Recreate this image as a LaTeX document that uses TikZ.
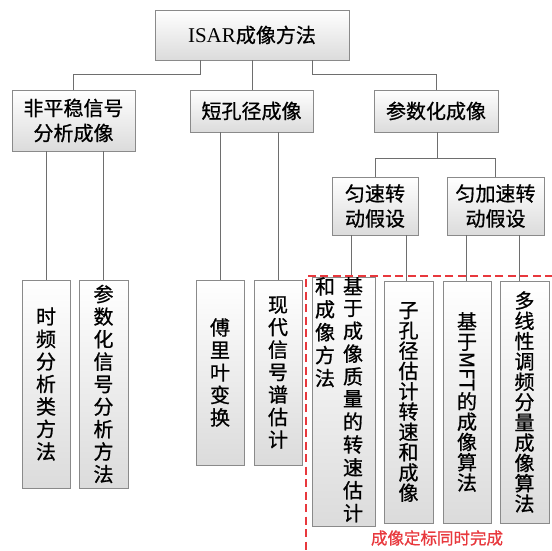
\documentclass[tikz,border=0pt]{standalone}
\usepackage{fontspec}
\usepackage{graphicx}
\newfontfamily\cjk[FakeBold=0.8]{Noto Sans CJK SC}
\newfontfamily\latserif{Liberation Serif}
\definecolor{boxline}{HTML}{8A8A8A}
\definecolor{conn}{HTML}{6E6E6E}
\definecolor{redmark}{HTML}{E8383D}
\begin{document}
\begin{tikzpicture}[x=1pt,y=-1pt,
  box/.style={draw=boxline, line width=0.9pt, top color=white, bottom color=black!14,
    inner sep=0pt, align=center, font=\cjk\fontsize{20}{25}\selectfont},
  tallbox/.style={box, font=\cjk\fontsize{20}{22.5}\selectfont},
  tallboxr/.style={box, font=\cjk\fontsize{20}{20.3}\selectfont},
  link/.style={draw=conn, line width=1pt},
  redline/.style={draw=redmark, line width=1.4pt, dash pattern=on 8pt off 4.5pt}]
\useasboundingbox[fill=white] (0,0) rectangle (552,551);

% level 1
\node[box, minimum width=194pt, minimum height=50pt] (top) at (252,35) {{\latserif\fontsize{21}{25}\selectfont ISAR}成像方法};
% level 2
\node[box, minimum width=123pt, minimum height=61pt] (n1) at (73.5,120.5) {非平稳信号\\分析成像};
\node[box, minimum width=123pt, minimum height=42pt] (n2) at (251.5,111) {短孔径成像};
\node[box, minimum width=124pt, minimum height=42pt] (n3) at (436,111) {参数化成像};
% level 3
\node[box, minimum width=86pt, minimum height=58pt] (n31) at (375,206) {匀速转\\动假设};
\node[box, minimum width=97pt, minimum height=58pt] (n32) at (495.5,206) {匀加速转\\动假设};
% leaves
\node[tallbox, minimum width=48pt, minimum height=208pt] (l1) at (46,384) {时\\频\\分\\析\\类\\方\\法};
\node[tallbox, minimum width=49pt, minimum height=208pt] (l2) at (103.5,384) {参\\数\\化\\信\\号\\分\\析\\方\\法};
\node[tallbox, minimum width=48pt, minimum height=185pt] (l3) at (220,372.5) {傅\\里\\叶\\变\\换};
\node[tallbox, minimum width=48pt, minimum height=185pt] (l4) at (278,372.5) {现\\代\\信\\号\\谱\\估\\计};
\node[box, font=\cjk\fontsize{20}{20.3}\selectfont, minimum width=63pt, minimum height=242pt] (l5) at (343.5,402)
  {\begin{tabular}[t]{@{}c@{}}和\\成\\像\\方\\法\end{tabular}\hspace{8pt}\begin{tabular}[t]{@{}c@{}}基\\于\\成\\像\\质\\量\\的\\转\\速\\估\\计\end{tabular}\hspace{9pt}};
\node[tallboxr, minimum width=49pt, minimum height=242pt] (l6) at (408.5,402) {子\\孔\\径\\估\\计\\转\\速\\和\\成\\像};
\node[tallboxr, minimum width=48pt, minimum height=242pt] (l7) at (467,402) {基\\于\\\rotatebox[origin=c]{-90}{MFT}\\的\\成\\像\\算\\法};
\node[tallboxr, minimum width=49pt, minimum height=242pt] (l8) at (524.5,402) {多\\线\\性\\调\\频\\分\\量\\成\\像\\算\\法};

% connectors level 1 -> 2
\coordinate (ja) at (200,75);
\coordinate (jb) at (312,75);
\draw[link] (top.south -| ja) -- (ja) -| (n1.north);
\draw[link] (top.south) -- (top.south |- n2.north);
\draw[link] (top.south -| jb) -- (jb) -| (n3.north);
% level 2 -> leaves
\draw[link] (n1.south -| l1.north) -- (l1.north);
\draw[link] (n1.south -| l2.north) -- (l2.north);
\draw[link] (n2.south -| l3.north) -- (l3.north);
\draw[link] (n2.south -| l4.north) -- (l4.north);
% parametric
\coordinate (jc) at (437,158);
\draw[link] (n3.south -| jc) -- (jc) -| (n31.north);
\draw[link] (jc) -| (n32.north);
\draw[link] ([xshift=7.5pt]l5.north) -- ([xshift=7.5pt]l5.north |- n31.south);
\draw[link] ([xshift=-2.5pt]l6.north) -- ([xshift=-2.5pt]l6.north |- n31.south);
\draw[link] ([xshift=-1pt]l7.north) -- ([xshift=-1pt]l7.north |- n32.south);
\draw[link] ([xshift=-5.5pt]l8.north) -- ([xshift=-5.5pt]l8.north |- n32.south);

% red dashed region
\coordinate (rc) at (306,276);
\coordinate (rr) at (553,276);
\coordinate (rb) at (306,552);
\draw[redline] (rr) -- (rc) -- (rb);
\node[text=redmark, font=\cjk\fontsize{16.5}{18}\selectfont, inner sep=0pt] (lbl) at (437,538) {成像定标同时完成};
\end{tikzpicture}
\end{document}
